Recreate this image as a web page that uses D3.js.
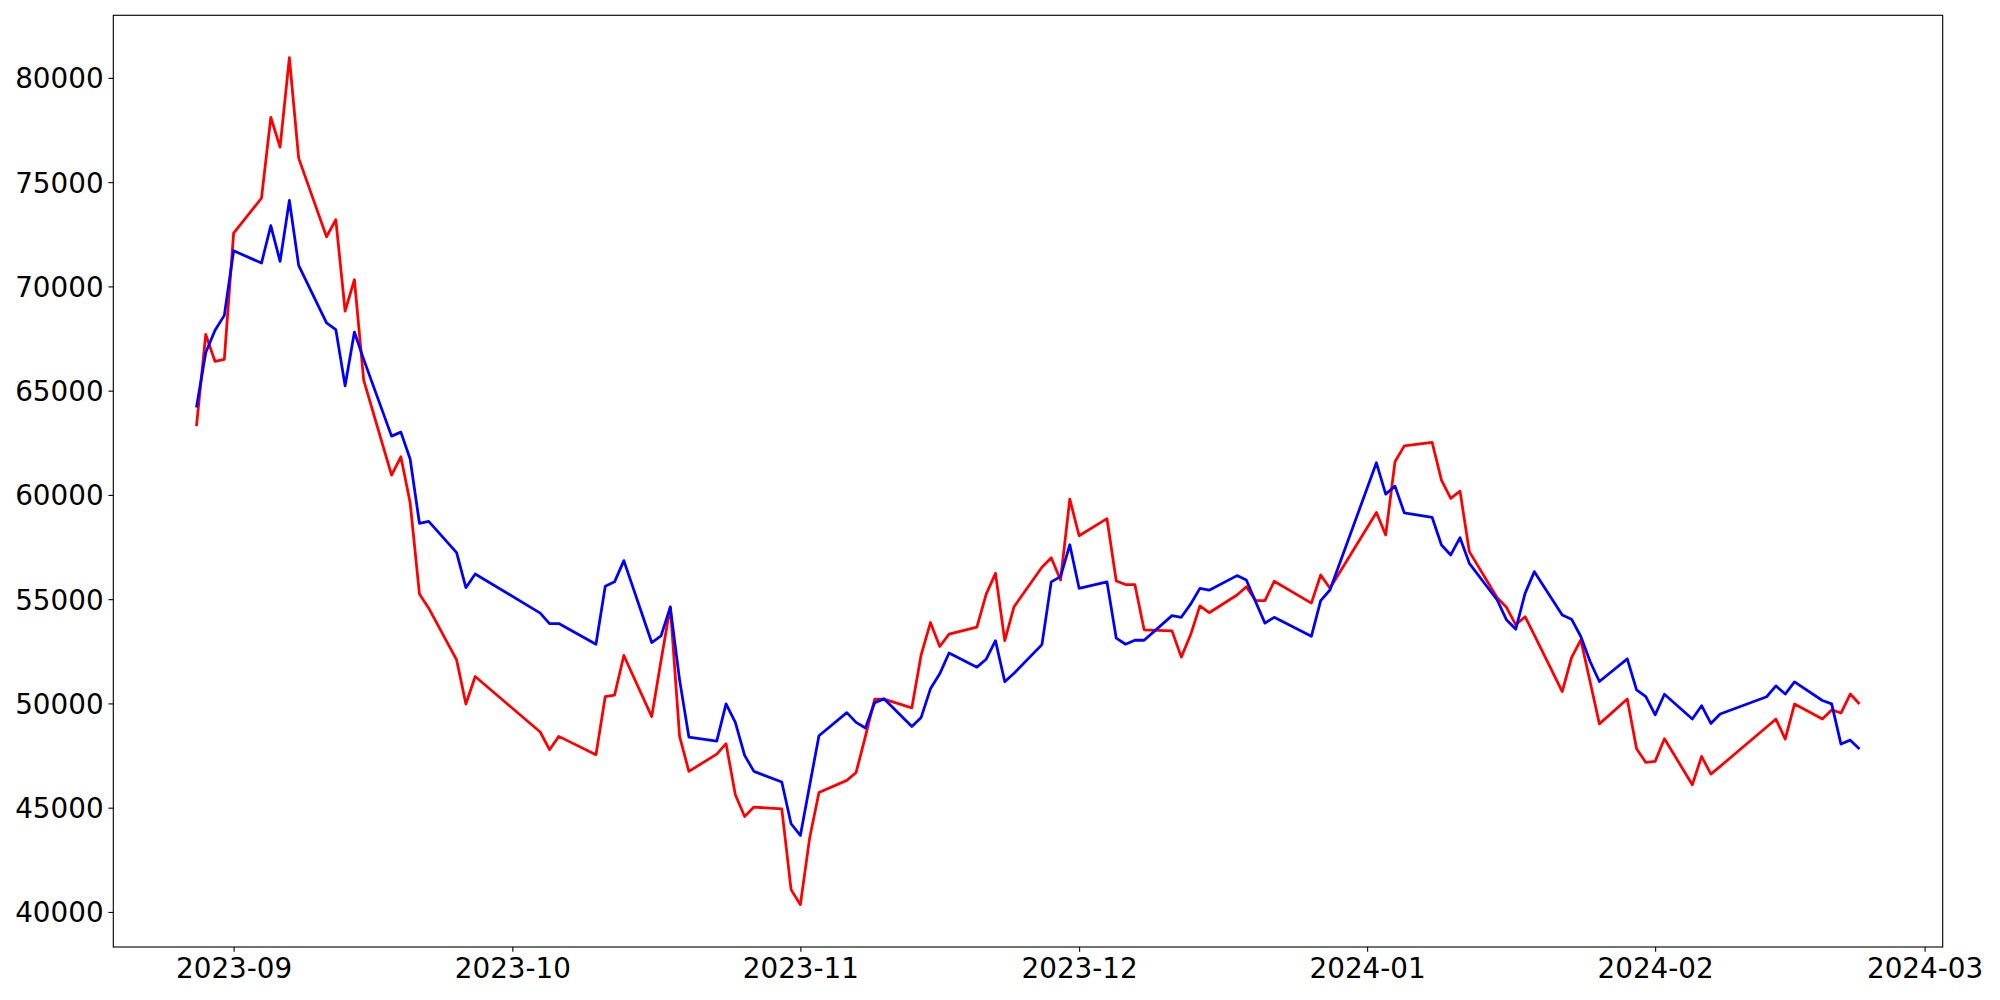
<!DOCTYPE html>
<html>
<head>
<meta charset="utf-8">
<script src="https://cdn.jsdelivr.net/npm/d3@7"></script>
<style>
  html, body { margin: 0; padding: 0; background: #fff; }
  svg { display: block; }
  .tick text { font-family: "DejaVu Sans", sans-serif; font-size: 27.8px; fill: #000; }
</style>
</head>
<body>
<svg id="chart" width="2000" height="1000"></svg>
<script>
// trading days (KRX calendar), Aug 28 2023 - Feb 23 2024
const dates = [
  "2023-08-28", "2023-08-29", "2023-08-30", "2023-08-31",
  "2023-09-01", "2023-09-04", "2023-09-05", "2023-09-06", "2023-09-07", "2023-09-08",
  "2023-09-11", "2023-09-12", "2023-09-13", "2023-09-14", "2023-09-15",
  "2023-09-18", "2023-09-19", "2023-09-20", "2023-09-21", "2023-09-22",
  "2023-09-25", "2023-09-26", "2023-09-27",
  "2023-10-04", "2023-10-05", "2023-10-06",
  "2023-10-10", "2023-10-11", "2023-10-12", "2023-10-13",
  "2023-10-16", "2023-10-17", "2023-10-18", "2023-10-19", "2023-10-20",
  "2023-10-23", "2023-10-24", "2023-10-25", "2023-10-26", "2023-10-27",
  "2023-10-30", "2023-10-31", "2023-11-01", "2023-11-02", "2023-11-03",
  "2023-11-06", "2023-11-07", "2023-11-08", "2023-11-09", "2023-11-10",
  "2023-11-13", "2023-11-14", "2023-11-15", "2023-11-16", "2023-11-17",
  "2023-11-20", "2023-11-21", "2023-11-22", "2023-11-23", "2023-11-24",
  "2023-11-27", "2023-11-28", "2023-11-29", "2023-11-30", "2023-12-01",
  "2023-12-04", "2023-12-05", "2023-12-06", "2023-12-07", "2023-12-08",
  "2023-12-11", "2023-12-12", "2023-12-13", "2023-12-14", "2023-12-15",
  "2023-12-18", "2023-12-19", "2023-12-20", "2023-12-21", "2023-12-22",
  "2023-12-26", "2023-12-27", "2023-12-28",
  "2024-01-02", "2024-01-03", "2024-01-04", "2024-01-05",
  "2024-01-08", "2024-01-09", "2024-01-10", "2024-01-11", "2024-01-12",
  "2024-01-15", "2024-01-16", "2024-01-17", "2024-01-18", "2024-01-19",
  "2024-01-22", "2024-01-23", "2024-01-24", "2024-01-25", "2024-01-26",
  "2024-01-29", "2024-01-30", "2024-01-31", "2024-02-01", "2024-02-02",
  "2024-02-05", "2024-02-06", "2024-02-07", "2024-02-08",
  "2024-02-13", "2024-02-14", "2024-02-15", "2024-02-16",
  "2024-02-19", "2024-02-20", "2024-02-21", "2024-02-22", "2024-02-23"
];

// red series
const redValues = [
  63300, 67700, 66400, 66500,
  72550, 74230, 78110, 76680, 80970, 76150,
  72380, 73200, 68820, 70320, 65500,
  60950, 61830, 59620, 55250, 54570,
  52090, 49970, 51290,
  48630, 47780, 48420,
  47540, 50330, 50400, 52300,
  49370, 52050, 54640, 48420, 46740,
  47570, 48070, 45620, 44580, 45030,
  44940, 41070, 40350, 43550, 45730,
  46310, 46690, 48420, 50210, 50210,
  49790, 52330, 53880, 52730, 53320,
  53660, 55240, 56240, 53010, 54640,
  56530, 56990, 55920, 59800, 58040,
  58860, 55870, 55700, 55700, 53530,
  53480, 52220, 53290, 54680, 54350,
  55200, 55600, 54930, 54930, 55860,
  54810, 56160, 55520,
  59160, 58080, 61590, 62350,
  62520, 60710, 59830, 60180, 57280,
  55070, 54610, 53770, 54160, 53270,
  50570, 52200, 53050, 51040, 49020,
  50210, 47830, 47170, 47220, 48310,
  46100, 47460, 46610, 46980,
  48870, 49250, 48290, 49970,
  49250, 49690, 49540, 50450, 49970
];

// blue series
const blueValues = [
  64190, 66830, 67900, 68610,
  71710, 71120, 72910, 71200, 74120, 71010,
  68250, 67930, 65230, 67810, 66500,
  62820, 63010, 61720, 58640, 58730,
  57230, 55550, 56210,
  54330, 53830, 53830,
  52840, 55620, 55830, 56850,
  52920, 53240, 54610, 51130, 48390,
  48190, 49980, 49090, 47510, 46740,
  46230, 44230, 43670, 46070, 48450,
  49560, 49090, 48820, 50040, 50220,
  48890, 49330, 50700, 51420, 52420,
  51740, 52120, 53010, 51040, 51450,
  52820, 55830, 56080, 57610, 55520,
  55830, 53130, 52840, 53030, 53030,
  54210, 54130, 54760, 55520, 55430,
  56130, 55920, 54880, 53850, 54130,
  53220, 54930, 55440,
  61540, 60040, 60420, 59140,
  58920, 57600, 57120, 57950, 56720,
  54960, 54010, 53560, 55280, 56320,
  54240, 54040, 53210, 52010, 51050,
  52140, 50650, 50330, 49450, 50440,
  49250, 49890, 49040, 49490,
  50320, 50840, 50450, 51030,
  50140, 49980, 48050, 48240, 47810
];

const yTicks = [40000, 45000, 50000, 55000, 60000, 65000, 70000, 75000, 80000];

const frame = { left: 113.3, right: 1942.7, top: 15.3, bottom: 947 };
const PT = 100 / 72; // matplotlib points -> px at dpi 100

const svg = d3.select("#chart");
const parse = d3.utcParse("%Y-%m-%d");
const days = dates.map(parse);

// 5% margins like matplotlib autoscale
const xExt = d3.extent(days);
const xPad = (xExt[1] - xExt[0]) * 0.05;
const allVals = redValues.concat(blueValues);
const yExt = d3.extent(allVals);
const yPad = (yExt[1] - yExt[0]) * 0.05;

const x = d3.scaleUtc()
  .domain([new Date(+xExt[0] - xPad), new Date(+xExt[1] + xPad)])
  .range([frame.left, frame.right]);

const y = d3.scaleLinear()
  .domain([yExt[0] - yPad, yExt[1] + yPad])
  .range([frame.bottom, frame.top]);

const line = d3.line()
  .x((d, i) => x(days[i]))
  .y(d => y(d));

// lines
svg.append("path")
  .datum(redValues)
  .attr("d", line)
  .attr("fill", "none")
  .attr("stroke", "#ff0000")
  .attr("stroke-width", 2 * PT)
  .attr("stroke-linejoin", "round");

svg.append("path")
  .datum(blueValues)
  .attr("d", line)
  .attr("fill", "none")
  .attr("stroke", "#0000ff")
  .attr("stroke-width", 2 * PT)
  .attr("stroke-linejoin", "round");

// axes
const xAxis = d3.axisBottom(x)
  .ticks(d3.utcMonth.every(1))
  .tickFormat(d3.utcFormat("%Y-%m"))
  .tickSize(3.5 * PT)
  .tickSizeOuter(0)
  .tickPadding(3.5 * PT);

const yAxis = d3.axisLeft(y)
  .tickValues(yTicks)
  .tickFormat(d3.format("d"))
  .tickSize(3.5 * PT)
  .tickSizeOuter(0)
  .tickPadding(3.5 * PT);

const gx = svg.append("g")
  .attr("transform", `translate(0,${frame.bottom})`)
  .call(xAxis);
gx.select(".domain").remove();
gx.selectAll(".tick line").attr("stroke", "#000").attr("stroke-width", 0.8 * PT);
gx.selectAll(".tick text").attr("dy", "0.76em");

const gy = svg.append("g")
  .attr("transform", `translate(${frame.left},0)`)
  .call(yAxis);
gy.select(".domain").remove();
gy.selectAll(".tick line").attr("stroke", "#000").attr("stroke-width", 0.8 * PT);
gy.selectAll(".tick text").attr("dy", "0.36em");

// frame (spines)
svg.append("rect")
  .attr("x", frame.left)
  .attr("y", frame.top)
  .attr("width", frame.right - frame.left)
  .attr("height", frame.bottom - frame.top)
  .attr("fill", "none")
  .attr("stroke", "#000")
  .attr("stroke-width", 0.8 * PT);
</script>
</body>
</html>
